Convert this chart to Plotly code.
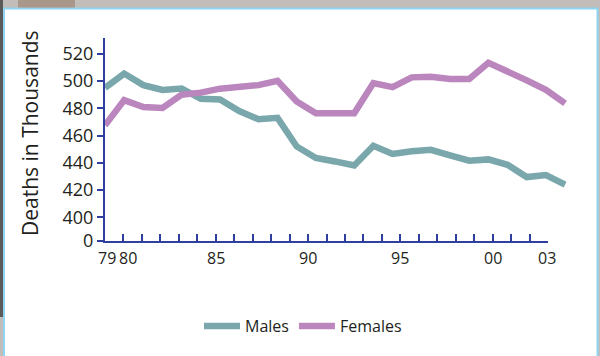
import plotly.graph_objects as go

# ---- data ----
years = list(range(1979, 2004))
males = [495, 505.5, 497, 493.5, 494.5, 487, 486.5, 478, 472, 473, 452, 443.5, 441, 438,
         452.5, 446.5, 448.5, 449.5, 445.5, 441.5, 442.5, 438.5, 429.5, 431, 424]
females = [467.5, 486, 481, 480.2, 490, 491.5, 494.4, 495.5, 497, 500.2, 485, 476.3, 476.3, 476.3,
           498.5, 495.5, 502.7, 503.2, 501.5, 501.5, 513.4, 507.3, 500.5, 493.6, 483.6]

y_tick_labels = ["0", "400", "420", "440", "460", "480", "500", "520"]
y_tick_values = [382.6, 400, 420, 440, 460, 480, 500, 520]
x_label_years = [1979, 1980, 1985, 1990, 1995, 2000, 2003]
x_label_texts = ["79", "80", "85", "90", "95", "00", "03"]
x_label_shift = [2, 5, 0, 0, 0, 0, -1]

AXIS = "#2e3f9e"
MALE = "#7aa7ac"
FEMALE = "#bb86bd"
TXT = "#231f20"
FONT = "Open Sans"

W, H = 600, 356
L, R, T, B = 105, 30, 38, 115
PW = W - L - R
PH = H - T - B


def px(x):
    return (x - L) / PW


def py(y):
    return (H - B - y) / PH


fig = go.Figure()
fig.add_trace(go.Scatter(x=years, y=males, mode="lines", name="Males",
                         line=dict(color=MALE, width=6.5)))
fig.add_trace(go.Scatter(x=years, y=females, mode="lines", name="Females",
                         line=dict(color=FEMALE, width=6.5)))

annotations = []
for yr, txt, sh in zip(x_label_years, x_label_texts, x_label_shift):
    annotations.append(dict(x=yr, xref="x2", y=0, yref="paper", text=txt,
                            showarrow=False, xanchor="center", yanchor="top",
                            xshift=sh, yshift=-4, font=dict(family=FONT, size=16, color=TXT)))
annotations.append(dict(x=px(30), xref="paper", y=py(133), yref="paper",
                        text="Deaths in Thousands", textangle=-90, showarrow=False,
                        xanchor="center", yanchor="middle",
                        font=dict(family=FONT, size=21, color=TXT)))

shapes = [
    # white card with light blue border
    dict(type="rect", xref="paper", yref="paper", x0=px(4), x1=px(597.5), y0=py(370), y1=py(8.5),
         fillcolor="white", line=dict(color="#8fd4f2", width=2), layer="below"),
    # dark strip on left
    dict(type="rect", xref="paper", yref="paper", x0=px(-2), x1=px(3), y0=py(317), y1=py(-2),
         fillcolor="#5a5a5a", line=dict(width=0), layer="below"),
    # brownish blob in top strip
    dict(type="rect", xref="paper", yref="paper", x0=px(18), x1=px(75), y0=py(7.5), y1=py(-2),
         fillcolor="#a8978a", line=dict(width=0), layer="below"),
]

fig.update_layout(
    width=W, height=H,
    margin=dict(l=L, r=R, t=T, b=B),
    paper_bgcolor="#c2bdb8",
    plot_bgcolor="rgba(0,0,0,0)",
    font=dict(family=FONT, color=TXT),
    showlegend=True,
    legend=dict(orientation="h", xref="container", yref="container", x=0.505, y=1 - 326 / H,
                xanchor="center", yanchor="middle", font=dict(family=FONT, size=16, color=TXT),
                bgcolor="rgba(0,0,0,0)", itemwidth=36, tracegroupgap=0),
    xaxis=dict(range=[1979, 1979 + PW / 19.17], showline=False, showgrid=False, zeroline=False,
               showticklabels=False, ticks="", fixedrange=True),
    xaxis2=dict(domain=[0, (548 - L) / PW], anchor="y", range=[1979, 2003],
                tickvals=years, ticktext=[""] * len(years), ticks="inside", ticklen=7,
                tickwidth=1.5, tickcolor=AXIS, showline=True, linecolor=AXIS, linewidth=2,
                showgrid=False, zeroline=False),
    yaxis=dict(range=[382.6, 531.6], tickvals=y_tick_values, ticktext=y_tick_labels,
               ticks="outside", ticklen=6, tickwidth=1.5, tickcolor=AXIS, showline=True,
               linecolor=AXIS, linewidth=2, showgrid=False, zeroline=False,
               tickfont=dict(family=FONT, size=18, color=TXT)),
    annotations=annotations,
    shapes=shapes,
)

fig.write_html("out.html",
               config={"displayModeBar": False},
               post_script="document.body.style.margin='0';document.body.style.padding='0';"
                           "document.documentElement.style.overflow='hidden';")
